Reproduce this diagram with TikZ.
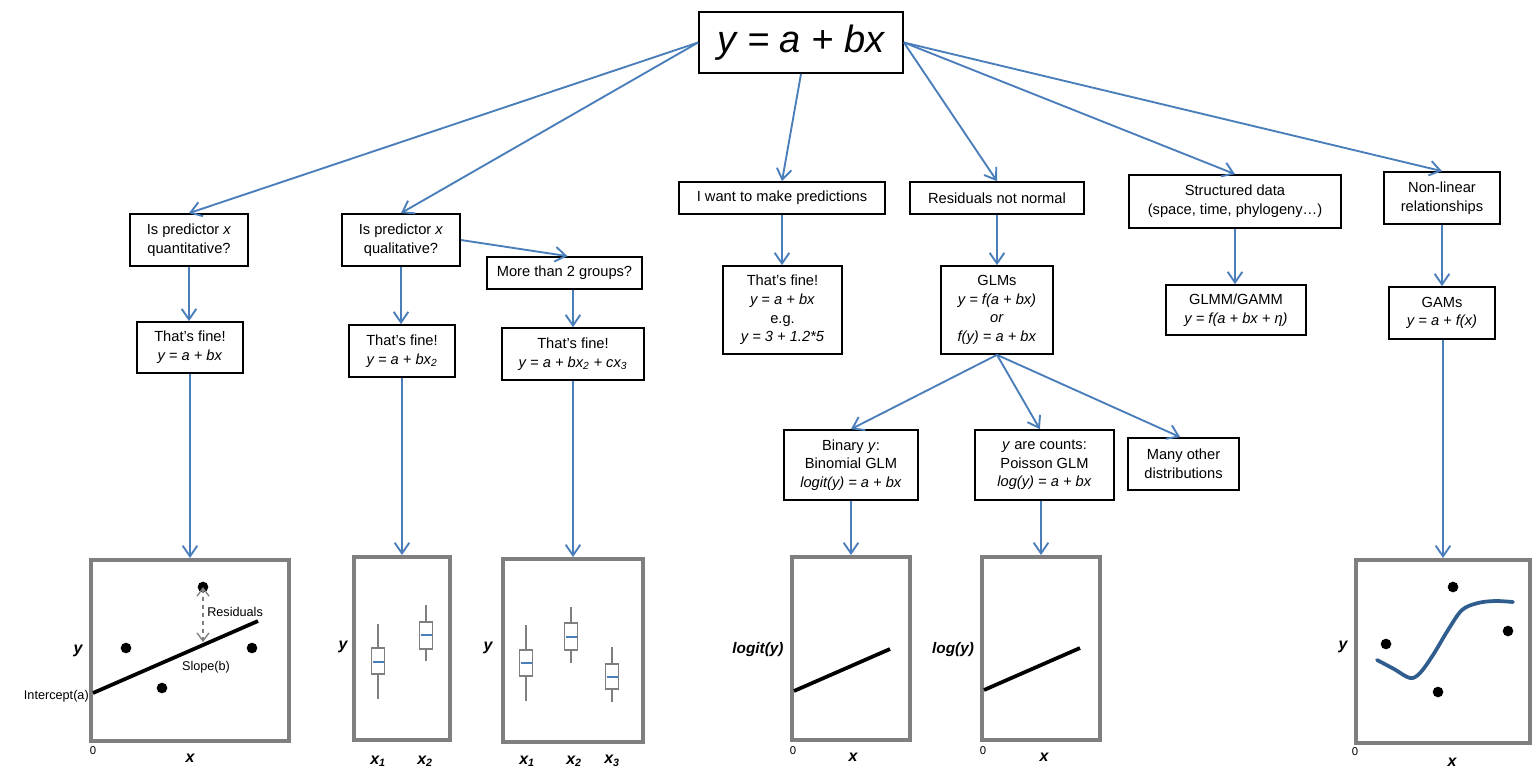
\documentclass[tikz,border=0pt]{standalone}
\usepackage{fontspec}
\setmainfont{Liberation Sans}
\usetikzlibrary{arrows.meta}
\definecolor{arrowblue}{HTML}{4A7EBB}
\definecolor{framegray}{HTML}{7F7F7F}
\definecolor{curveblue}{HTML}{2F5E8E}
\newcommand\myboxplot[6]{%
  \draw[bpline] (#1,#2) -- (#1,#3);
  \draw[bpline] (#1,#5) -- (#1,#6);
  \draw[bpline] (#1-6.5,#3) rectangle (#1+6.5,#5);
  \draw[medline] (#1-5.5,#4) -- (#1+5.5,#4);
}
\begin{document}
\begin{tikzpicture}[x=0.75pt,y=-0.75pt,
  box/.style={draw=black, line width=1.3pt, inner sep=0pt, align=center,
    font=\fontsize{11}{14}\selectfont, fill=white},
  arr/.style={draw=arrowblue, line width=1.4pt,
    -{Straight Barb[length=8pt,width=11pt,line width=1.4pt]}},
  plotframe/.style={draw=framegray, line width=3pt, inner sep=0pt},
  dot/.style={circle, fill=black, inner sep=0pt, minimum size=8pt},
  regline/.style={line width=2.8pt, black},
  bpline/.style={draw=framegray, line width=1.1pt},
  medline/.style={draw=arrowblue, line width=1.4pt},
  axlab/.style={font=\fontsize{12}{14}\selectfont\bfseries\itshape, inner sep=0pt},
  zerolab/.style={font=\fontsize{8.5}{10}\selectfont, inner sep=0pt},
  annot/.style={font=\fontsize{9.5}{11}\selectfont, inner sep=0pt},
]
\useasboundingbox[fill=white] (0,0) rectangle (1538,776);

% ---------- top ----------
\node[box, minimum width=153pt, minimum height=45.75pt,
  font=\fontsize{28.5}{32}\selectfont\itshape] (top) at (801,42.5) {y = a + bx};

% ---------- level 2 ----------
\node[box, minimum width=88.5pt, minimum height=39pt] (q1) at (189,240)
  {Is predictor \textit{x}\\quantitative?};
\node[box, minimum width=88.5pt, minimum height=39pt] (q2) at (401,240)
  {Is predictor \textit{x}\\qualitative?};
\node[box, minimum width=116.25pt, minimum height=24pt] (more) at (564.5,273)
  {More than 2 groups?};
\node[box, minimum width=154.5pt, minimum height=24pt] (pred) at (782,198)
  {I want to make predictions};
\node[box, minimum width=130.5pt, minimum height=24pt] (resid) at (997,198)
  {Residuals not normal};
\node[box, minimum width=159pt, minimum height=39.75pt] (struct) at (1235,201.5)
  {Structured data\\(space, time, phylogeny…)};
\node[box, minimum width=87pt, minimum height=39pt] (nonlin) at (1442,198)
  {Non-linear\\relationships};

% ---------- level 3 ----------
\node[box, minimum width=79.5pt, minimum height=38.25pt] (fine1) at (190,347.5)
  {That’s fine!\\\textit{y = a + bx}};
\node[box, minimum width=79.5pt, minimum height=39pt] (fine2) at (402,351)
  {That’s fine!\\\textit{y = a + bx\textsubscript{2}}};
\node[box, minimum width=106.5pt, minimum height=39pt] (fine3) at (573,354)
  {That’s fine!\\\textit{y = a + bx\textsubscript{2} + cx\textsubscript{3}}};
\node[box, minimum width=89.25pt, minimum height=66pt] (finep) at (782.5,310)
  {That’s fine!\\\textit{y = a + bx}\\e.g.\\\textit{y = 3 + 1.2*5}};
\node[box, minimum width=84pt, minimum height=66pt] (glm) at (997,310)
  {GLMs\\\textit{y = f(a + bx)}\\\textit{or}\\\textit{f(y) = a + bx}};
\node[box, minimum width=105pt, minimum height=37.5pt] (glmm) at (1236,310)
  {GLMM/GAMM\\\textit{y = f(a + bx + η)}};
\node[box, minimum width=79.5pt, minimum height=39pt] (gam) at (1442,313)
  {GAMs\\\textit{y = a + f(x)}};

% ---------- level 4 ----------
\node[box, minimum width=100.5pt, minimum height=52.5pt] (binary) at (851,465)
  {Binary \textit{y}:\\Binomial GLM\\\textit{logit(y) = a + bx}};
\node[box, minimum width=104.25pt, minimum height=52.5pt] (counts) at (1044.5,465)
  {\textit{y} are counts:\\Poisson GLM\\\textit{log(y) = a + bx}};
\node[box, minimum width=83.25pt, minimum height=39pt] (many) at (1183.5,464)
  {Many other\\distributions};

% ---------- plot frames ----------
\node[plotframe, minimum width=148.5pt, minimum height=135.75pt] (p1) at (190,650.5) {};
\node[plotframe, minimum width=72pt, minimum height=137.25pt] (p2) at (402,648.5) {};
\node[plotframe, minimum width=105pt, minimum height=137.25pt] (p3) at (573,650.5) {};
\node[plotframe, minimum width=88.5pt, minimum height=137.25pt] (p4) at (851,648.5) {};
\node[plotframe, minimum width=88.5pt, minimum height=137.25pt] (p5) at (1041,648.5) {};
\node[plotframe, minimum width=130.5pt, minimum height=137.25pt] (p6) at (1443,651.5) {};

% ---------- connectors ----------
\draw[arr] (top.west) -- (q1.north);
\draw[arr] (top.west) -- (q2.north);
\draw[arr] (top.south) -- (pred.north);
\draw[arr] (top.east) -- (resid.north);
\draw[arr] (top.east) -- (struct.north);
\draw[arr] (top.east) -- (nonlin.north);

\draw[arr] (q1.south) -- (q1.south |- fine1.north);
\draw[arr] (q2.south) -- (q2.south |- fine2.north);
\draw[arr] (q2.east) -- ([xshift=2.25pt]more.north);
\draw[arr] (more.south -| fine3.north) -- (fine3.north);
\draw[arr] (pred.south) -- (pred.south |- finep.north);
\draw[arr] (resid.south) -- (resid.south |- glm.north);
\draw[arr] (struct.south) -- (struct.south |- glmm.north);
\draw[arr] (nonlin.south) -- (nonlin.south |- gam.north);

\draw[arr] (glm.south) -- (binary.north);
\draw[arr] (glm.south) -- ([xshift=-3.5pt]counts.north);
\draw[arr] (glm.south) -- ([xshift=-2.5pt]many.north);

\draw[arr] (fine1.south -| p1.north) -- (p1.north);
\draw[arr] (fine2.south -| p2.north) -- (p2.north);
\draw[arr] (fine3.south -| p3.north) -- (p3.north);
\draw[arr] (binary.south -| p4.north) -- (p4.north);
\draw[arr] (counts.south -| p5.north) -- (p5.north);
\draw[arr] (gam.south -| p6.north) -- (p6.north);

% ---------- plot 1: linear regression ----------
\draw[regline] (93,693) -- (258,621);
\node[dot] (d11) at (126,648) {};
\node[dot] (d12) at (162,688) {};
\node[dot] (d13) at (252,648) {};
\node[dot] (d14) at (203,587) {};
\coordinate (resfoot) at (203,642);
\draw[framegray, line width=1pt, dashed,
  {Straight Barb[length=6pt,width=9pt,line width=1pt]}-{Straight Barb[length=6pt,width=9pt,line width=1pt]}]
  (d14.center) -- (resfoot);
\node[annot, anchor=west] (resl) at (207,612) {Residuals};
\node[annot] (slope) at (206,667) {Slope(b)};
\node[annot, anchor=east] (icpt) at (89,696) {Intercept(a)};
\node[axlab] (y1) at (78,651) {y};
\node[axlab] (x1) at (190,758) {x};
\node[zerolab] (z1) at (93,751) {0};

% ---------- plot 2: two groups ----------
\myboxplot{378}{624}{648}{662}{674}{699}
\myboxplot{426}{605}{622}{635}{649}{661}
\node[axlab] (y2) at (343,647) {y};
\node[axlab] (x21) at (378,761) {x\textsubscript{1}};
\node[axlab] (x22) at (425,761) {x\textsubscript{2}};

% ---------- plot 3: three groups ----------
\myboxplot{526}{625}{650}{663}{676}{701}
\myboxplot{571}{607}{623}{637}{650}{663}
\myboxplot{612}{647}{664}{677}{689}{702}
\node[axlab] (y3) at (488,648) {y};
\node[axlab] (x31) at (527,761) {x\textsubscript{1}};
\node[axlab] (x32) at (574,761) {x\textsubscript{2}};
\node[axlab] (x33) at (612,761) {x\textsubscript{3}};

% ---------- plot 4: logit ----------
\draw[regline] (794,691) -- (890,649);
\node[axlab, font=\fontsize{11.5}{14}\selectfont\bfseries\itshape] (y4) at (758,650) {logit(y)};
\node[axlab] (x4) at (853,757) {x};
\node[zerolab] (z4) at (793,751) {0};

% ---------- plot 5: log ----------
\draw[regline] (984,690) -- (1080,648);
\node[axlab, font=\fontsize{11.5}{14}\selectfont\bfseries\itshape] (y5) at (953,650) {log(y)};
\node[axlab] (x5) at (1044,757) {x};
\node[zerolab] (z5) at (983,751) {0};

% ---------- plot 6: GAM ----------
\draw[curveblue, line width=2.8pt, line cap=round]
  plot[smooth, tension=0.55] coordinates {(1377,660) (1394,669) (1410,678) (1420,673) (1433,655) (1448,630) (1462,610) (1478,603) (1495,601) (1513,602)};
\node[dot] (d61) at (1453,587) {};
\node[dot] (d62) at (1386,644) {};
\node[dot] (d63) at (1508,631) {};
\node[dot] (d64) at (1438,692) {};
\node[axlab] (y6) at (1343,647) {y};
\node[axlab] (x6) at (1452,762) {x};
\node[zerolab] (z6) at (1355,752) {0};
\end{tikzpicture}
\end{document}
